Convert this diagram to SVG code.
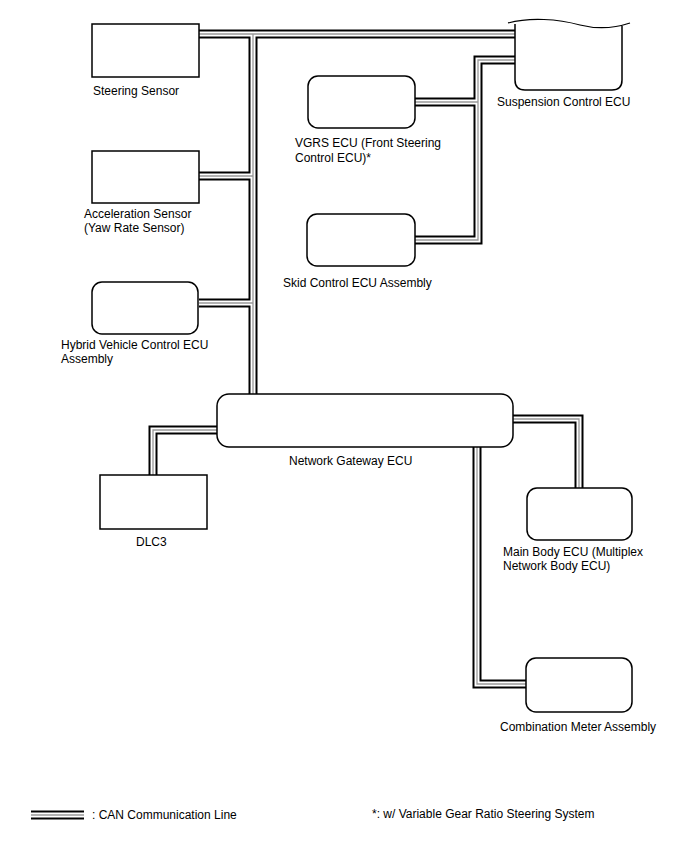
<svg xmlns="http://www.w3.org/2000/svg" width="688" height="852" viewBox="0 0 688 852">
<style>
.box{fill:#fff;stroke:#000;stroke-width:1.5}
.t{font-family:"Liberation Sans",Arial,sans-serif;font-size:12px;fill:#000}
.c1{fill:none;stroke:#000;stroke-width:9}
.c2{fill:none;stroke:#fff;stroke-width:5}
.c3{fill:none;stroke:#999;stroke-width:1.3}
</style>
<defs>
<g id="can">
<path d="M199,34 H515 M253,34 V394 M199,176 H253 M199,303 H253 M515,60 H478 V240 H415 M415,102 H478 M217,430 H153 V475 M513,419 H579 V488 M477,447 V684 H526"/>
</g>
</defs>
<rect width="688" height="852" fill="#fff"/>
<g id="connectors">
<use href="#can" class="c1"/>
<use href="#can" class="c2"/>
<use href="#can" class="c3"/>
</g>
<g id="steering-sensor">
<rect class="box" x="92" y="24" width="107" height="53"/>
<text class="t" x="93" y="95">Steering Sensor</text>
</g>
<g id="acceleration-sensor">
<rect class="box" x="92" y="151" width="107" height="52"/>
<text class="t" x="84" y="218">Acceleration Sensor</text>
<text class="t" x="84" y="232">(Yaw Rate Sensor)</text>
</g>
<g id="hybrid-ecu">
<rect class="box" x="92" y="282" width="106" height="52" rx="10"/>
<text class="t" x="61" y="349">Hybrid Vehicle Control ECU</text>
<text class="t" x="61" y="363">Assembly</text>
</g>
<g id="vgrs-ecu">
<rect class="box" x="308" y="76" width="107" height="52" rx="10"/>
<text class="t" x="295" y="147">VGRS ECU (Front Steering</text>
<text class="t" x="295" y="162">Control ECU)*</text>
</g>
<g id="skid-ecu">
<rect class="box" x="307" y="214" width="108" height="52" rx="10"/>
<text class="t" x="283" y="287">Skid Control ECU Assembly</text>
</g>
<g id="suspension-ecu">
<path d="M515,24 V80 Q515,90 525,90 H612 Q622,90 622,80 V26" fill="#fff" stroke="#000" stroke-width="1.5"/>
<path d="M508,23 C530,17 558,19 580,25 C600,30 615,28 630,23" fill="none" stroke="#000" stroke-width="1.2"/>
<text class="t" x="497" y="106">Suspension Control ECU</text>
</g>
<g id="network-gateway-ecu">
<rect class="box" x="217" y="394" width="296" height="53" rx="12"/>
<text class="t" x="289" y="465">Network Gateway ECU</text>
</g>
<g id="dlc3">
<rect class="box" x="100" y="475" width="107" height="54"/>
<text class="t" x="136" y="546">DLC3</text>
</g>
<g id="main-body-ecu">
<rect class="box" x="527" y="488" width="105" height="52" rx="10"/>
<text class="t" x="503" y="556">Main Body ECU (Multiplex</text>
<text class="t" x="503" y="570">Network Body ECU)</text>
</g>
<g id="combination-meter">
<rect class="box" x="526" y="658" width="106" height="54" rx="10"/>
<text class="t" x="500" y="731">Combination Meter Assembly</text>
</g>
<g id="legend">
<path d="M31,815 H84" class="c1"/>
<path d="M31,815 H84" class="c2"/>
<path d="M31,815 H84" class="c3"/>
<text class="t" x="92" y="819">: CAN Communication Line</text>
<text class="t" x="372" y="818">*: w/ Variable Gear Ratio Steering System</text>
</g>
</svg>
